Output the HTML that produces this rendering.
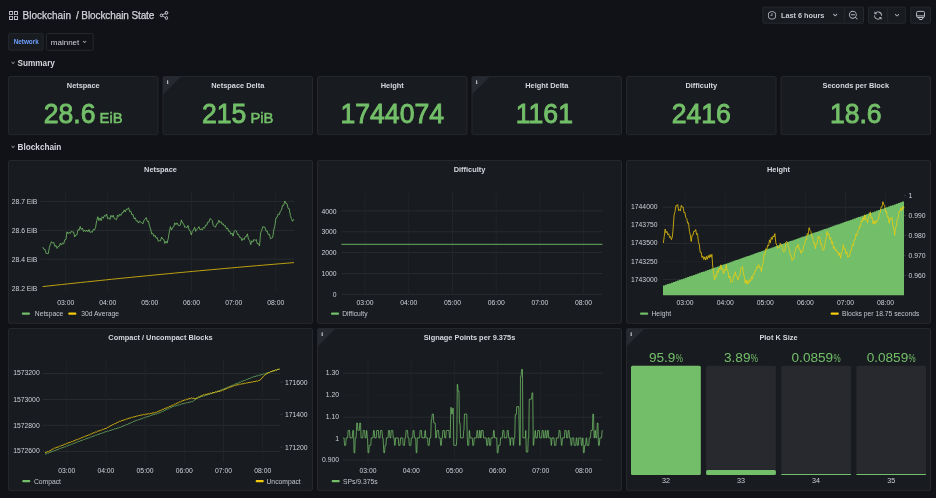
<!DOCTYPE html>
<html><head><meta charset="utf-8"><title>Blockchain State</title>
<style>html,body{margin:0;padding:0;background:#111217;width:936px;height:498px;overflow:hidden}svg{display:block;will-change:transform}</style>
</head><body>
<svg width="936" height="498" viewBox="0 0 936 498" font-family="'Liberation Sans', Arial, sans-serif">
<rect x="0.00" y="0.00" width="936.00" height="498.00" rx="0" fill="#111217" />
<path transform="translate(8.1,10.1) scale(0.45)" fill="#c9cad2" d="M10,13H3a1,1,0,0,0-1,1v7a1,1,0,0,0,1,1h7a1,1,0,0,0,1-1V14A1,1,0,0,0,10,13ZM9,20H4V15H9ZM21,2H14a1,1,0,0,0-1,1v7a1,1,0,0,0,1,1h7a1,1,0,0,0,1-1V3A1,1,0,0,0,21,2ZM20,9H15V4h5Zm1,4H14a1,1,0,0,0-1,1v7a1,1,0,0,0,1,1h7a1,1,0,0,0,1-1V14A1,1,0,0,0,21,13Zm-1,7H15V15h5ZM10,2H3A1,1,0,0,0,2,3v7a1,1,0,0,0,1,1h7a1,1,0,0,0,1-1V3A1,1,0,0,0,10,2ZM9,9H4V4H9Z"/>
<text x="22.60" y="19.30" font-size="10" fill="#d2d3da" font-weight="normal" text-anchor="start" stroke="#d2d3da" stroke-width="0.25">Blockchain</text>
<text x="76.00" y="19.30" font-size="10" fill="#d2d3da" font-weight="normal" text-anchor="start" letter-spacing="-0.1" stroke="#d2d3da" stroke-width="0.25">/ Blockchain State</text>
<path transform="translate(158.85,10.3) scale(0.425)" fill="#c9cad2" d="M18,14a4,4,0,0,0-3.08,1.48l-5.1-2.35a3.640,3.640,0,0,0,0-2.26l5.1-2.35A4,4,0,1,0,14,6a4.170,4.170,0,0,0,.07.71L8.79,9.14a4,4,0,1,0,0,5.72l5.280,2.430A4.170,4.170,0,0,0,14,18a4,4,0,1,0,4-4ZM18,4a2,2,0,1,1-2,2A2,2,0,0,1,18,4ZM6,14a2,2,0,1,1,2-2A2,2,0,0,1,6,14Zm12,6a2,2,0,1,1,2-2A2,2,0,0,1,18,20Z"/>
<rect x="762.90" y="7.10" width="100.60" height="16.20" rx="1" fill="#181b1f" stroke="#25282d" stroke-width="1" />
<line x1="844.30" y1="7.60" x2="844.30" y2="22.80" stroke="#25282d" stroke-width="1" />
<path transform="translate(767.08,10.48) scale(0.41)" fill="#b9bac2" d="M12,2A10,10,0,1,0,22,12,10.011,10.011,0,0,0,12,2Zm0,18a8,8,0,1,1,8-8A8.009,8.009,0,0,1,12,20Zm0-14a1,1,0,0,0-1,1v4H9a1,1,0,0,0,0,2h3a1,1,0,0,0,1-1V7A1,1,0,0,0,12,6Z"/>
<text x="781.00" y="17.90" font-size="7.3" fill="#c9cad2" font-weight="bold" text-anchor="start" >Last 6 hours</text>
<path transform="translate(830.4,10.2) scale(0.4)" fill="#b9bac2" d="M17,9.17a1,1,0,0,0-1.41,0L12,12.71,8.46,9.17a1,1,0,0,0-1.41,0,1,1,0,0,0,0,1.42l4.24,4.24a1,1,0,0,0,1.42,0L17,10.59A1,1,0,0,0,17,9.17Z"/>
<path transform="translate(848.14,10.04) scale(0.43)" fill="#b9bac2" d="M21.71,20.29,18,16.61A9,9,0,1,0,16.61,18l3.68,3.68a1,1,0,0,0,1.42,0A1,1,0,0,0,21.71,20.29ZM11,18a7,7,0,1,1,7-7A7,7,0,0,1,11,18Zm4-8H7a1,1,0,0,0,0,2h8a1,1,0,0,0,0-2Z"/>
<rect x="868.50" y="7.10" width="37.10" height="16.20" rx="1" fill="#181b1f" stroke="#25282d" stroke-width="1" />
<line x1="887.80" y1="7.60" x2="887.80" y2="22.80" stroke="#25282d" stroke-width="1" />
<path transform="translate(873.2,10.8) scale(0.4)" fill="#b9bac2" d="M19.91,15.51H15.38a1,1,0,0,0,0,2h2.4A8,8,0,0,1,4,12a1,1,0,0,0-2,0,10,10,0,0,0,16.88,7.23V21a1,1,0,0,0,2,0V16.5A1,1,0,0,0,19.91,15.51ZM12,2A10,10,0,0,0,5.12,4.77V3a1,1,0,0,0-2,0V7.5a1,1,0,0,0,1,1h4.5a1,1,0,0,0,0-2H6.22A8,8,0,0,1,20,12a1,1,0,0,0,2,0A10,10,0,0,0,12,2Z"/>
<path transform="translate(892.2,10.4) scale(0.4)" fill="#b9bac2" d="M17,9.17a1,1,0,0,0-1.41,0L12,12.71,8.46,9.17a1,1,0,0,0-1.41,0,1,1,0,0,0,0,1.42l4.24,4.24a1,1,0,0,0,1.42,0L17,10.59A1,1,0,0,0,17,9.17Z"/>
<rect x="910.80" y="7.10" width="19.80" height="16.20" rx="1" fill="#181b1f" stroke="#25282d" stroke-width="1" />
<g fill="none" stroke="#b9bac2" stroke-width="1"><rect x="916.6" y="11.4" width="7.9" height="6.1" rx="1.2"/><line x1="916.8" y1="15.9" x2="924.3" y2="15.9"/><path d="M918.4,17.6 L919.6,19.5 L922.1,19.5 L923.3,17.6"/></g>
<rect x="8.60" y="33.60" width="34.40" height="16.60" rx="1" fill="#181b1f" stroke="#25282d" stroke-width="1" />
<text x="13.70" y="44.10" font-size="6.35" fill="#6e9fff" font-weight="bold" text-anchor="start" >Network</text>
<rect x="46.40" y="33.60" width="46.80" height="16.60" rx="1" fill="#111217" stroke="#25282d" stroke-width="1" />
<text x="50.80" y="44.60" font-size="8.0" fill="#d0d1d9" font-weight="normal" text-anchor="start" >mainnet</text>
<path transform="translate(80.6,37.9) scale(0.33)" fill="#c0c1c9" d="M17,9.17a1,1,0,0,0-1.41,0L12,12.71,8.46,9.17a1,1,0,0,0-1.41,0,1,1,0,0,0,0,1.42l4.24,4.24a1,1,0,0,0,1.42,0L17,10.59A1,1,0,0,0,17,9.17Z"/>
<path d="M11.6,62.10 L13.1,63.50 L14.6,62.10" fill="none" stroke="#c9cad2" stroke-width="0.9"/>
<text x="17.60" y="65.70" font-size="8.2" fill="#d6d7de" font-weight="bold" text-anchor="start" >Summary</text>
<path d="M11.6,146.10 L13.1,147.50 L14.6,146.10" fill="none" stroke="#c9cad2" stroke-width="0.9"/>
<text x="17.60" y="149.70" font-size="8.2" fill="#d6d7de" font-weight="bold" text-anchor="start" >Blockchain</text>
<rect x="8.50" y="76.50" width="149.50" height="58.20" rx="1.5" fill="#181b1f" stroke="#25272c" stroke-width="1" />
<text x="83.25" y="88.10" font-size="7.4" fill="#d6d7de" font-weight="bold" text-anchor="middle" >Netspace</text>
<g transform="translate(83.25,122.9) scale(1.03,1.055)"><text x="0" y="0" font-size="25.8" fill="#73bf69" text-anchor="middle" stroke="#73bf69" stroke-width="0.85">28.6<tspan font-size="14.4" stroke-width="0.5"> EiB</tspan></text></g>
<rect x="163.00" y="76.50" width="149.50" height="58.20" rx="1.5" fill="#181b1f" stroke="#25272c" stroke-width="1" />
<path d="M163.00,77.50 Q163.00,76.50 164.00,76.50 L181.10,76.50 L163.00,94.60 Z" fill="#262930"/>
<text x="166.70" y="83.90" font-size="6.6" fill="#d2d3da" font-family="'Liberation Serif', serif" font-weight="bold">i</text>
<text x="237.75" y="88.10" font-size="7.4" fill="#d6d7de" font-weight="bold" text-anchor="middle" >Netspace Delta</text>
<g transform="translate(237.75,122.9) scale(1.03,1.055)"><text x="0" y="0" font-size="25.8" fill="#73bf69" text-anchor="middle" stroke="#73bf69" stroke-width="0.85">215<tspan font-size="14.4" stroke-width="0.5"> PiB</tspan></text></g>
<rect x="317.50" y="76.50" width="149.50" height="58.20" rx="1.5" fill="#181b1f" stroke="#25272c" stroke-width="1" />
<text x="392.25" y="88.10" font-size="7.4" fill="#d6d7de" font-weight="bold" text-anchor="middle" >Height</text>
<g transform="translate(392.25,122.9) scale(1.03,1.055)"><text x="0" y="0" font-size="25.8" fill="#73bf69" text-anchor="middle" stroke="#73bf69" stroke-width="0.85">1744074</text></g>
<rect x="472.00" y="76.50" width="149.50" height="58.20" rx="1.5" fill="#181b1f" stroke="#25272c" stroke-width="1" />
<path d="M472.00,77.50 Q472.00,76.50 473.00,76.50 L490.10,76.50 L472.00,94.60 Z" fill="#262930"/>
<text x="475.70" y="83.90" font-size="6.6" fill="#d2d3da" font-family="'Liberation Serif', serif" font-weight="bold">i</text>
<text x="546.75" y="88.10" font-size="7.4" fill="#d6d7de" font-weight="bold" text-anchor="middle" >Height Delta</text>
<g transform="translate(544.35,122.9) scale(1.03,1.055)"><text x="0" y="0" font-size="25.8" fill="#73bf69" text-anchor="middle" stroke="#73bf69" stroke-width="0.85">1161</text></g>
<rect x="626.50" y="76.50" width="149.50" height="58.20" rx="1.5" fill="#181b1f" stroke="#25272c" stroke-width="1" />
<text x="701.25" y="88.10" font-size="7.4" fill="#d6d7de" font-weight="bold" text-anchor="middle" >Difficulty</text>
<g transform="translate(701.25,122.9) scale(1.03,1.055)"><text x="0" y="0" font-size="25.8" fill="#73bf69" text-anchor="middle" stroke="#73bf69" stroke-width="0.85">2416</text></g>
<rect x="781.00" y="76.50" width="149.50" height="58.20" rx="1.5" fill="#181b1f" stroke="#25272c" stroke-width="1" />
<text x="855.75" y="88.10" font-size="7.4" fill="#d6d7de" font-weight="bold" text-anchor="middle" >Seconds per Block</text>
<g transform="translate(855.75,122.9) scale(1.03,1.055)"><text x="0" y="0" font-size="25.8" fill="#73bf69" text-anchor="middle" stroke="#73bf69" stroke-width="0.85">18.6</text></g>
<rect x="8.50" y="160.50" width="304.00" height="162.80" rx="1.5" fill="#181b1f" stroke="#25272c" stroke-width="1" />
<text x="160.50" y="172.00" font-size="7.4" fill="#d6d7de" font-weight="bold" text-anchor="middle" >Netspace</text>
<line x1="40.50" y1="201.40" x2="294.20" y2="201.40" stroke="#282b30" stroke-width="1" />
<line x1="40.50" y1="230.40" x2="294.20" y2="230.40" stroke="#282b30" stroke-width="1" />
<line x1="40.50" y1="259.20" x2="294.20" y2="259.20" stroke="#282b30" stroke-width="1" />
<line x1="65.70" y1="192.20" x2="65.70" y2="292.00" stroke="#212428" stroke-width="1" />
<line x1="107.70" y1="192.20" x2="107.70" y2="292.00" stroke="#212428" stroke-width="1" />
<line x1="149.70" y1="192.20" x2="149.70" y2="292.00" stroke="#212428" stroke-width="1" />
<line x1="191.50" y1="192.20" x2="191.50" y2="292.00" stroke="#212428" stroke-width="1" />
<line x1="233.70" y1="192.20" x2="233.70" y2="292.00" stroke="#212428" stroke-width="1" />
<line x1="275.70" y1="192.20" x2="275.70" y2="292.00" stroke="#212428" stroke-width="1" />
<text x="37.40" y="204.00" font-size="6.8" fill="#d0d1d9" font-weight="normal" text-anchor="end" >28.7 EiB</text>
<text x="37.40" y="233.00" font-size="6.8" fill="#d0d1d9" font-weight="normal" text-anchor="end" >28.6 EiB</text>
<text x="37.40" y="261.80" font-size="6.8" fill="#d0d1d9" font-weight="normal" text-anchor="end" >28.4 EiB</text>
<text x="37.40" y="290.60" font-size="6.8" fill="#d0d1d9" font-weight="normal" text-anchor="end" >28.2 EiB</text>
<text x="65.70" y="305.00" font-size="6.8" fill="#d0d1d9" font-weight="normal" text-anchor="middle" >03:00</text>
<text x="107.70" y="305.00" font-size="6.8" fill="#d0d1d9" font-weight="normal" text-anchor="middle" >04:00</text>
<text x="149.70" y="305.00" font-size="6.8" fill="#d0d1d9" font-weight="normal" text-anchor="middle" >05:00</text>
<text x="191.50" y="305.00" font-size="6.8" fill="#d0d1d9" font-weight="normal" text-anchor="middle" >06:00</text>
<text x="233.70" y="305.00" font-size="6.8" fill="#d0d1d9" font-weight="normal" text-anchor="middle" >07:00</text>
<text x="275.70" y="305.00" font-size="6.8" fill="#d0d1d9" font-weight="normal" text-anchor="middle" >08:00</text>
<polyline points="42.80,247.10 43.90,249.35 45.00,249.43 46.10,253.38 47.20,253.55 48.30,253.56 49.40,247.30 50.50,244.01 51.60,241.67 52.70,243.17 53.80,242.50 54.90,246.50 56.00,245.42 57.10,248.48 58.20,246.45 59.30,246.32 60.40,243.07 61.50,245.07 62.60,242.86 63.70,243.90 64.80,239.75 65.90,239.47 67.00,231.83 68.10,233.75 69.20,232.22 70.30,233.47 71.40,231.12 72.50,231.86 73.60,231.95 74.70,236.85 75.80,235.04 76.90,234.91 78.00,229.58 79.10,230.24 80.20,226.46 81.30,229.41 82.40,228.03 83.50,231.57 84.60,230.08 85.70,231.65 86.80,230.01 87.90,231.71 89.00,229.52 90.10,232.49 91.20,231.56 92.30,232.41 93.40,229.26 94.50,230.01 95.60,227.24 96.70,220.64 97.80,216.72 98.90,220.55 100.00,217.98 101.10,220.65 102.20,216.76 103.30,218.35 104.40,215.44 105.50,216.27 106.60,214.02 107.70,218.86 108.80,217.70 109.90,219.47 111.00,215.33 112.10,217.21 113.20,215.20 114.30,218.65 115.40,219.03 116.50,219.79 117.60,214.97 118.70,216.55 119.80,214.08 120.90,215.45 122.00,212.67 123.10,212.70 124.20,209.95 125.30,211.98 126.40,209.00 127.50,209.37 128.60,207.78 129.70,211.62 130.80,211.14 131.90,214.82 133.00,214.41 134.10,218.76 135.20,217.72 136.30,221.15 137.40,220.65 138.50,223.08 139.60,220.91 140.70,222.37 141.80,222.79 142.90,223.85 144.00,220.17 145.10,219.29 146.20,217.52 147.30,221.45 148.40,221.14 149.50,225.94 150.60,228.94 151.70,234.06 152.80,233.27 153.90,236.45 155.00,235.12 156.10,238.17 157.20,237.49 158.30,241.48 159.40,240.52 160.50,240.79 161.60,237.07 162.70,238.96 163.80,239.38 164.90,243.51 166.00,241.17 167.10,243.15 168.20,238.72 169.30,232.06 170.40,226.62 171.50,230.07 172.60,227.45 173.70,226.91 174.80,222.81 175.90,224.65 177.00,222.82 178.10,225.14 179.20,225.68 180.30,225.24 181.40,219.92 182.50,223.11 183.60,223.67 184.70,227.35 185.80,226.74 186.90,227.81 188.00,225.41 189.10,230.02 190.20,230.77 191.30,235.00 192.40,231.16 193.50,230.06 194.60,227.24 195.70,231.34 196.80,229.35 197.90,228.45 199.00,226.67 200.10,229.85 201.20,228.98 202.30,229.93 203.40,227.41 204.50,228.26 205.60,225.13 206.70,225.35 207.80,221.94 208.90,222.18 210.00,218.59 211.10,219.33 212.20,220.46 213.30,225.77 214.40,226.46 215.50,227.29 216.60,223.89 217.70,223.72 218.80,220.09 219.90,222.70 221.00,221.54 222.10,224.26 223.20,223.77 224.30,226.12 225.40,225.68 226.50,229.10 227.60,227.94 228.70,231.38 229.80,231.16 230.90,234.30 232.00,232.98 233.10,236.13 234.20,231.14 235.30,230.50 236.40,230.91 237.50,234.70 238.60,234.40 239.70,237.48 240.80,237.31 241.90,240.61 243.00,238.34 244.10,239.69 245.20,236.70 246.30,236.75 247.40,233.84 248.50,239.40 249.60,240.11 250.70,244.68 251.80,240.76 252.90,242.07 254.00,239.30 255.10,240.64 256.20,239.50 257.30,243.84 258.40,243.56 259.50,245.96 260.60,232.97 261.70,230.36 262.80,226.68 263.90,227.04 265.00,227.30 266.10,231.19 267.20,231.02 268.30,234.73 269.40,234.19 270.50,238.82 271.60,238.05 272.70,237.59 273.80,229.90 274.90,225.54 276.00,217.82 277.10,217.29 278.20,213.99 279.30,214.56 280.40,210.96 281.50,210.25 282.60,205.34 283.70,205.37 284.80,200.97 285.90,203.46 287.00,203.65 288.10,208.39 289.20,208.61 290.30,215.25 291.40,218.54 292.50,221.29 293.60,219.49 294.00,219.00" fill="none" stroke="#73bf69" stroke-width="0.8" stroke-linejoin="round" />
<polyline points="42.60,286.60 48.89,285.91 55.17,285.23 61.45,284.55 67.74,283.88 74.03,283.21 80.31,282.54 86.59,281.88 92.88,281.22 99.17,280.57 105.45,279.93 111.74,279.28 118.02,278.64 124.31,278.01 130.59,277.38 136.88,276.76 143.16,276.14 149.44,275.52 155.73,274.91 162.01,274.30 168.30,273.70 174.59,273.10 180.87,272.51 187.15,271.92 193.44,271.34 199.72,270.76 206.01,270.18 212.30,269.61 218.58,269.04 224.86,268.48 231.15,267.93 237.44,267.37 243.72,266.82 250.00,266.28 256.29,265.74 262.57,265.21 268.86,264.68 275.15,264.15 281.43,263.63 287.72,263.11 294.00,262.60" fill="none" stroke="#f2cc0c" stroke-width="0.75" stroke-linejoin="round" />
<rect x="21.80" y="312.45" width="8.20" height="2.30" rx="1.1" fill="#73bf69" />
<text x="34.80" y="316.10" font-size="6.75" fill="#c4c5cd" font-weight="normal" text-anchor="start" >Netspace</text>
<rect x="68.20" y="312.45" width="8.20" height="2.30" rx="1.1" fill="#f2cc0c" />
<text x="81.20" y="316.10" font-size="6.75" fill="#c4c5cd" font-weight="normal" text-anchor="start" >30d Average</text>
<rect x="317.50" y="160.50" width="304.00" height="162.80" rx="1.5" fill="#181b1f" stroke="#25272c" stroke-width="1" />
<text x="469.50" y="172.00" font-size="7.4" fill="#d6d7de" font-weight="bold" text-anchor="middle" >Difficulty</text>
<line x1="341.40" y1="210.90" x2="602.40" y2="210.90" stroke="#282b30" stroke-width="1" />
<line x1="341.40" y1="231.75" x2="602.40" y2="231.75" stroke="#282b30" stroke-width="1" />
<line x1="341.40" y1="252.60" x2="602.40" y2="252.60" stroke="#282b30" stroke-width="1" />
<line x1="341.40" y1="273.45" x2="602.40" y2="273.45" stroke="#282b30" stroke-width="1" />
<line x1="341.40" y1="294.30" x2="602.40" y2="294.30" stroke="#282b30" stroke-width="1" />
<line x1="365.10" y1="192.70" x2="365.10" y2="295.00" stroke="#212428" stroke-width="1" />
<line x1="408.80" y1="192.70" x2="408.80" y2="295.00" stroke="#212428" stroke-width="1" />
<line x1="452.50" y1="192.70" x2="452.50" y2="295.00" stroke="#212428" stroke-width="1" />
<line x1="496.20" y1="192.70" x2="496.20" y2="295.00" stroke="#212428" stroke-width="1" />
<line x1="539.90" y1="192.70" x2="539.90" y2="295.00" stroke="#212428" stroke-width="1" />
<line x1="583.60" y1="192.70" x2="583.60" y2="295.00" stroke="#212428" stroke-width="1" />
<text x="336.50" y="213.50" font-size="6.8" fill="#d0d1d9" font-weight="normal" text-anchor="end" >4000</text>
<text x="336.50" y="234.35" font-size="6.8" fill="#d0d1d9" font-weight="normal" text-anchor="end" >3000</text>
<text x="336.50" y="255.20" font-size="6.8" fill="#d0d1d9" font-weight="normal" text-anchor="end" >2000</text>
<text x="336.50" y="276.05" font-size="6.8" fill="#d0d1d9" font-weight="normal" text-anchor="end" >1000</text>
<text x="336.50" y="296.90" font-size="6.8" fill="#d0d1d9" font-weight="normal" text-anchor="end" >0</text>
<text x="365.10" y="305.00" font-size="6.8" fill="#d0d1d9" font-weight="normal" text-anchor="middle" >03:00</text>
<text x="408.80" y="305.00" font-size="6.8" fill="#d0d1d9" font-weight="normal" text-anchor="middle" >04:00</text>
<text x="452.50" y="305.00" font-size="6.8" fill="#d0d1d9" font-weight="normal" text-anchor="middle" >05:00</text>
<text x="496.20" y="305.00" font-size="6.8" fill="#d0d1d9" font-weight="normal" text-anchor="middle" >06:00</text>
<text x="539.90" y="305.00" font-size="6.8" fill="#d0d1d9" font-weight="normal" text-anchor="middle" >07:00</text>
<text x="583.60" y="305.00" font-size="6.8" fill="#d0d1d9" font-weight="normal" text-anchor="middle" >08:00</text>
<line x1="341.40" y1="244.30" x2="602.40" y2="244.30" stroke="#73bf69" stroke-width="0.9" />
<rect x="330.90" y="312.45" width="8.20" height="2.30" rx="1.1" fill="#73bf69" />
<text x="342.20" y="316.10" font-size="6.75" fill="#c4c5cd" font-weight="normal" text-anchor="start" >Difficulty</text>
<rect x="626.50" y="160.50" width="304.00" height="162.80" rx="1.5" fill="#181b1f" stroke="#25272c" stroke-width="1" />
<text x="778.50" y="172.00" font-size="7.4" fill="#d6d7de" font-weight="bold" text-anchor="middle" >Height</text>
<line x1="663.00" y1="207.20" x2="904.00" y2="207.20" stroke="#282b30" stroke-width="1" />
<line x1="663.00" y1="225.30" x2="904.00" y2="225.30" stroke="#282b30" stroke-width="1" />
<line x1="663.00" y1="243.40" x2="904.00" y2="243.40" stroke="#282b30" stroke-width="1" />
<line x1="663.00" y1="279.60" x2="904.00" y2="279.60" stroke="#282b30" stroke-width="1" />
<line x1="663.00" y1="261.50" x2="904.00" y2="261.50" stroke="#1e2125" stroke-width="1" />
<line x1="685.10" y1="192.50" x2="685.10" y2="295.00" stroke="#212428" stroke-width="1" />
<line x1="725.20" y1="192.50" x2="725.20" y2="295.00" stroke="#212428" stroke-width="1" />
<line x1="765.30" y1="192.50" x2="765.30" y2="295.00" stroke="#212428" stroke-width="1" />
<line x1="805.40" y1="192.50" x2="805.40" y2="295.00" stroke="#212428" stroke-width="1" />
<line x1="845.50" y1="192.50" x2="845.50" y2="295.00" stroke="#212428" stroke-width="1" />
<line x1="885.60" y1="192.50" x2="885.60" y2="295.00" stroke="#212428" stroke-width="1" />
<text x="657.50" y="209.20" font-size="6.8" fill="#d0d1d9" font-weight="normal" text-anchor="end" >1744000</text>
<text x="657.50" y="227.30" font-size="6.8" fill="#d0d1d9" font-weight="normal" text-anchor="end" >1743750</text>
<text x="657.50" y="245.40" font-size="6.8" fill="#d0d1d9" font-weight="normal" text-anchor="end" >1743500</text>
<text x="657.50" y="263.50" font-size="6.8" fill="#d0d1d9" font-weight="normal" text-anchor="end" >1743250</text>
<text x="657.50" y="281.60" font-size="6.8" fill="#d0d1d9" font-weight="normal" text-anchor="end" >1743000</text>
<text x="908.50" y="197.90" font-size="6.8" fill="#d0d1d9" font-weight="normal" text-anchor="start" >1</text>
<line x1="904.00" y1="195.40" x2="906.20" y2="195.40" stroke="#3a3d43" stroke-width="0.8" />
<text x="908.50" y="218.00" font-size="6.8" fill="#d0d1d9" font-weight="normal" text-anchor="start" >0.990</text>
<line x1="904.00" y1="215.50" x2="906.20" y2="215.50" stroke="#3a3d43" stroke-width="0.8" />
<text x="908.50" y="237.90" font-size="6.8" fill="#d0d1d9" font-weight="normal" text-anchor="start" >0.980</text>
<line x1="904.00" y1="235.40" x2="906.20" y2="235.40" stroke="#3a3d43" stroke-width="0.8" />
<text x="908.50" y="257.90" font-size="6.8" fill="#d0d1d9" font-weight="normal" text-anchor="start" >0.970</text>
<line x1="904.00" y1="255.40" x2="906.20" y2="255.40" stroke="#3a3d43" stroke-width="0.8" />
<text x="908.50" y="278.00" font-size="6.8" fill="#d0d1d9" font-weight="normal" text-anchor="start" >0.960</text>
<line x1="904.00" y1="275.50" x2="906.20" y2="275.50" stroke="#3a3d43" stroke-width="0.8" />
<text x="685.10" y="305.00" font-size="6.8" fill="#d0d1d9" font-weight="normal" text-anchor="middle" >03:00</text>
<text x="725.20" y="305.00" font-size="6.8" fill="#d0d1d9" font-weight="normal" text-anchor="middle" >04:00</text>
<text x="765.30" y="305.00" font-size="6.8" fill="#d0d1d9" font-weight="normal" text-anchor="middle" >05:00</text>
<text x="805.40" y="305.00" font-size="6.8" fill="#d0d1d9" font-weight="normal" text-anchor="middle" >06:00</text>
<text x="845.50" y="305.00" font-size="6.8" fill="#d0d1d9" font-weight="normal" text-anchor="middle" >07:00</text>
<text x="885.60" y="305.00" font-size="6.8" fill="#d0d1d9" font-weight="normal" text-anchor="middle" >08:00</text>
<path d="M663,295.2 L663.00,285.50 L665.01,285.50 L665.01,284.79 L667.02,284.79 L667.02,284.09 L669.02,284.09 L669.02,283.38 L671.03,283.38 L671.03,282.68 L673.04,282.68 L673.04,281.97 L675.05,281.97 L675.05,281.27 L677.06,281.27 L677.06,280.56 L679.07,280.56 L679.07,279.86 L681.08,279.86 L681.08,279.15 L683.08,279.15 L683.08,278.45 L685.09,278.45 L685.09,277.74 L687.10,277.74 L687.10,277.04 L689.11,277.04 L689.11,276.33 L691.12,276.33 L691.12,275.63 L693.12,275.63 L693.12,274.92 L695.13,274.92 L695.13,274.22 L697.14,274.22 L697.14,273.51 L699.15,273.51 L699.15,272.81 L701.16,272.81 L701.16,272.10 L703.17,272.10 L703.17,271.40 L705.17,271.40 L705.17,270.69 L707.18,270.69 L707.18,269.99 L709.19,269.99 L709.19,269.28 L711.20,269.28 L711.20,268.58 L713.21,268.58 L713.21,267.87 L715.22,267.87 L715.22,267.17 L717.23,267.17 L717.23,266.46 L719.23,266.46 L719.23,265.76 L721.24,265.76 L721.24,265.05 L723.25,265.05 L723.25,264.35 L725.26,264.35 L725.26,263.64 L727.27,263.64 L727.27,262.94 L729.27,262.94 L729.27,262.23 L731.28,262.23 L731.28,261.53 L733.29,261.53 L733.29,260.82 L735.30,260.82 L735.30,260.12 L737.31,260.12 L737.31,259.41 L739.32,259.41 L739.32,258.71 L741.33,258.71 L741.33,258.00 L743.33,258.00 L743.33,257.30 L745.34,257.30 L745.34,256.59 L747.35,256.59 L747.35,255.89 L749.36,255.89 L749.36,255.18 L751.37,255.18 L751.37,254.48 L753.38,254.48 L753.38,253.77 L755.38,253.77 L755.38,253.07 L757.39,253.07 L757.39,252.36 L759.40,252.36 L759.40,251.66 L761.41,251.66 L761.41,250.95 L763.42,250.95 L763.42,250.25 L765.42,250.25 L765.42,249.54 L767.43,249.54 L767.43,248.84 L769.44,248.84 L769.44,248.13 L771.45,248.13 L771.45,247.43 L773.46,247.43 L773.46,246.72 L775.47,246.72 L775.47,246.02 L777.48,246.02 L777.48,245.31 L779.48,245.31 L779.48,244.61 L781.49,244.61 L781.49,243.90 L783.50,243.90 L783.50,243.20 L785.51,243.20 L785.51,242.49 L787.52,242.49 L787.52,241.79 L789.52,241.79 L789.52,241.08 L791.53,241.08 L791.53,240.38 L793.54,240.38 L793.54,239.67 L795.55,239.67 L795.55,238.97 L797.56,238.97 L797.56,238.26 L799.57,238.26 L799.57,237.56 L801.58,237.56 L801.58,236.85 L803.58,236.85 L803.58,236.15 L805.59,236.15 L805.59,235.44 L807.60,235.44 L807.60,234.74 L809.61,234.74 L809.61,234.03 L811.62,234.03 L811.62,233.33 L813.62,233.33 L813.62,232.62 L815.63,232.62 L815.63,231.92 L817.64,231.92 L817.64,231.21 L819.65,231.21 L819.65,230.51 L821.66,230.51 L821.66,229.80 L823.67,229.80 L823.67,229.10 L825.67,229.10 L825.67,228.39 L827.68,228.39 L827.68,227.69 L829.69,227.69 L829.69,226.98 L831.70,226.98 L831.70,226.28 L833.71,226.28 L833.71,225.57 L835.72,225.57 L835.72,224.87 L837.73,224.87 L837.73,224.16 L839.73,224.16 L839.73,223.46 L841.74,223.46 L841.74,222.75 L843.75,222.75 L843.75,222.05 L845.76,222.05 L845.76,221.34 L847.77,221.34 L847.77,220.64 L849.77,220.64 L849.77,219.93 L851.78,219.93 L851.78,219.23 L853.79,219.23 L853.79,218.52 L855.80,218.52 L855.80,217.82 L857.81,217.82 L857.81,217.11 L859.82,217.11 L859.82,216.41 L861.83,216.41 L861.83,215.70 L863.83,215.70 L863.83,215.00 L865.84,215.00 L865.84,214.29 L867.85,214.29 L867.85,213.59 L869.86,213.59 L869.86,212.88 L871.87,212.88 L871.87,212.18 L873.88,212.18 L873.88,211.47 L875.88,211.47 L875.88,210.77 L877.89,210.77 L877.89,210.06 L879.90,210.06 L879.90,209.36 L881.91,209.36 L881.91,208.65 L883.92,208.65 L883.92,207.95 L885.92,207.95 L885.92,207.24 L887.93,207.24 L887.93,206.54 L889.94,206.54 L889.94,205.83 L891.95,205.83 L891.95,205.13 L893.96,205.13 L893.96,204.42 L895.97,204.42 L895.97,203.72 L897.98,203.72 L897.98,203.01 L899.98,203.01 L899.98,202.31 L901.99,202.31 L901.99,201.60 L904.00,201.60 L904,295.2 Z" fill="#73bf69"/>
<polyline points="663.30,243.00 664.20,236.79 665.10,229.10 666.00,232.83 666.90,231.35 667.80,234.84 668.70,233.73 669.60,237.52 670.50,236.49 671.40,239.65 672.30,237.06 673.20,227.96 674.10,215.03 675.00,211.67 675.90,205.58 676.80,205.79 677.70,204.56 678.60,210.75 679.50,209.60 680.40,210.87 681.30,205.35 682.20,207.00 683.10,206.97 684.00,212.81 684.90,212.58 685.80,217.53 686.70,218.46 687.60,223.25 688.50,222.79 689.40,231.28 690.30,234.97 691.20,241.47 692.10,235.31 693.00,235.02 693.90,231.16 694.80,231.45 695.70,229.53 696.60,234.59 697.50,233.67 698.40,241.73 699.30,244.79 700.20,252.19 701.10,251.99 702.00,257.54 702.90,256.15 703.80,259.58 704.70,256.89 705.60,260.04 706.50,256.30 707.40,259.36 708.30,255.45 709.20,257.97 710.10,254.52 711.00,257.21 711.90,254.39 712.80,267.18 713.70,274.70 714.60,280.06 715.50,275.21 716.40,276.57 717.30,270.71 718.20,272.71 719.10,267.89 720.00,269.37 720.90,264.76 721.80,269.85 722.70,268.63 723.60,273.93 724.50,269.47 725.40,270.39 726.30,264.44 727.20,270.63 728.10,271.66 729.00,278.00 729.90,276.08 730.80,282.48 731.70,281.42 732.60,281.71 733.50,275.93 734.40,275.73 735.30,271.92 736.20,276.35 737.10,276.55 738.00,280.25 738.90,276.79 739.80,275.39 740.70,269.18 741.60,267.36 742.50,266.53 743.40,273.97 744.30,276.26 745.20,283.31 746.10,279.92 747.00,284.34 747.90,280.55 748.80,283.40 749.70,279.71 750.60,281.13 751.50,276.55 752.40,279.23 753.30,274.27 754.20,274.37 755.10,270.53 756.00,270.84 756.90,266.47 757.80,267.75 758.70,264.65 759.60,267.94 760.50,267.36 761.40,271.49 762.30,265.17 763.20,263.11 764.10,253.90 765.00,254.52 765.90,248.62 766.80,249.82 767.70,245.14 768.60,245.93 769.50,239.82 770.40,242.66 771.30,237.39 772.20,239.49 773.10,235.77 774.00,237.06 774.90,233.59 775.80,242.81 776.70,244.96 777.60,248.16 778.50,247.55 779.40,247.47 780.30,243.19 781.20,244.76 782.10,246.20 783.00,251.06 783.90,252.00 784.80,251.12 785.70,242.42 786.60,241.37 787.50,242.31 788.40,247.89 789.30,249.09 790.20,254.92 791.10,255.18 792.00,260.56 792.90,258.64 793.80,259.01 794.70,252.02 795.60,250.24 796.50,246.58 797.40,247.31 798.30,244.42 799.20,249.95 800.10,249.36 801.00,253.43 801.90,250.96 802.80,251.36 803.70,245.53 804.60,244.66 805.50,239.61 806.40,239.61 807.30,233.53 808.20,234.71 809.10,227.65 810.00,230.36 810.90,231.46 811.80,237.18 812.70,237.21 813.60,243.44 814.50,242.70 815.40,248.62 816.30,243.37 817.20,243.43 818.10,236.18 819.00,238.21 819.90,237.33 820.80,244.50 821.70,243.78 822.60,249.89 823.50,250.48 824.40,248.20 825.30,241.13 826.20,237.54 827.10,231.33 828.00,235.11 828.90,233.74 829.80,239.31 830.70,237.49 831.60,243.49 832.50,241.40 833.40,248.30 834.30,246.65 835.20,250.15 836.10,249.24 837.00,252.48 837.90,251.66 838.80,255.59 839.70,252.97 840.60,258.37 841.50,251.97 842.40,251.11 843.30,244.62 844.20,249.21 845.10,248.41 846.00,254.10 846.90,251.78 847.80,257.42 848.70,255.84 849.60,256.39 850.50,250.52 851.40,250.77 852.30,244.63 853.20,245.93 854.10,239.80 855.00,240.09 855.90,234.18 856.80,235.88 857.70,230.79 858.60,230.39 859.50,226.32 860.40,227.15 861.30,220.76 862.20,221.93 863.10,217.49 864.00,220.29 864.90,214.78 865.80,219.55 866.70,219.43 867.60,223.00 868.50,216.89 869.40,215.35 870.30,211.84 871.20,218.07 872.10,217.29 873.00,223.83 873.90,220.66 874.80,224.32 875.70,220.82 876.60,222.50 877.50,219.79 878.40,219.64 879.30,213.56 880.20,212.94 881.10,207.11 882.00,206.98 882.90,201.66 883.80,204.72 884.70,205.52 885.60,212.07 886.50,211.29 887.40,217.56 888.30,216.77 889.20,223.19 890.10,218.44 891.00,219.25 891.90,217.33 892.80,225.00 893.70,228.17 894.60,235.40 895.50,227.87 896.40,225.96 897.30,218.69 898.20,218.26 899.10,211.21 900.00,211.42 900.90,208.09 901.80,210.60 902.70,206.48 903.60,208.41 904.00,207.00" fill="none" stroke="#f2cc0c" stroke-width="0.75" stroke-linejoin="round" />
<rect x="640.00" y="312.45" width="8.20" height="2.30" rx="1.1" fill="#73bf69" />
<text x="651.50" y="316.10" font-size="6.75" fill="#c4c5cd" font-weight="normal" text-anchor="start" >Height</text>
<rect x="830.60" y="312.45" width="8.20" height="2.30" rx="1.1" fill="#f2cc0c" />
<text x="842.00" y="316.10" font-size="6.75" fill="#c4c5cd" font-weight="normal" text-anchor="start" >Blocks per 18.75 seconds</text>
<rect x="8.50" y="328.50" width="304.00" height="162.20" rx="1.5" fill="#181b1f" stroke="#25272c" stroke-width="1" />
<text x="160.50" y="340.00" font-size="7.4" fill="#d6d7de" font-weight="bold" text-anchor="middle" >Compact / Uncompact Blocks</text>
<line x1="42.60" y1="373.50" x2="280.20" y2="373.50" stroke="#282b30" stroke-width="1" />
<line x1="42.60" y1="399.50" x2="280.20" y2="399.50" stroke="#282b30" stroke-width="1" />
<line x1="42.60" y1="425.30" x2="280.20" y2="425.30" stroke="#282b30" stroke-width="1" />
<line x1="42.60" y1="451.40" x2="280.20" y2="451.40" stroke="#282b30" stroke-width="1" />
<line x1="66.70" y1="360.00" x2="66.70" y2="462.50" stroke="#212428" stroke-width="1" />
<line x1="105.90" y1="360.00" x2="105.90" y2="462.50" stroke="#212428" stroke-width="1" />
<line x1="145.10" y1="360.00" x2="145.10" y2="462.50" stroke="#212428" stroke-width="1" />
<line x1="184.30" y1="360.00" x2="184.30" y2="462.50" stroke="#212428" stroke-width="1" />
<line x1="223.50" y1="360.00" x2="223.50" y2="462.50" stroke="#212428" stroke-width="1" />
<line x1="262.70" y1="360.00" x2="262.70" y2="462.50" stroke="#212428" stroke-width="1" />
<text x="39.70" y="375.40" font-size="6.8" fill="#d0d1d9" font-weight="normal" text-anchor="end" >1573200</text>
<text x="39.70" y="401.50" font-size="6.8" fill="#d0d1d9" font-weight="normal" text-anchor="end" >1573000</text>
<text x="39.70" y="427.60" font-size="6.8" fill="#d0d1d9" font-weight="normal" text-anchor="end" >1572800</text>
<text x="39.70" y="453.40" font-size="6.8" fill="#d0d1d9" font-weight="normal" text-anchor="end" >1572600</text>
<text x="284.90" y="384.50" font-size="6.8" fill="#d0d1d9" font-weight="normal" text-anchor="start" >171600</text>
<line x1="280.20" y1="382.00" x2="282.40" y2="382.00" stroke="#3a3d43" stroke-width="0.8" />
<text x="284.90" y="417.10" font-size="6.8" fill="#d0d1d9" font-weight="normal" text-anchor="start" >171400</text>
<line x1="280.20" y1="414.60" x2="282.40" y2="414.60" stroke="#3a3d43" stroke-width="0.8" />
<text x="284.90" y="449.70" font-size="6.8" fill="#d0d1d9" font-weight="normal" text-anchor="start" >171200</text>
<line x1="280.20" y1="447.20" x2="282.40" y2="447.20" stroke="#3a3d43" stroke-width="0.8" />
<text x="66.70" y="473.00" font-size="6.8" fill="#d0d1d9" font-weight="normal" text-anchor="middle" >03:00</text>
<text x="105.90" y="473.00" font-size="6.8" fill="#d0d1d9" font-weight="normal" text-anchor="middle" >04:00</text>
<text x="145.10" y="473.00" font-size="6.8" fill="#d0d1d9" font-weight="normal" text-anchor="middle" >05:00</text>
<text x="184.30" y="473.00" font-size="6.8" fill="#d0d1d9" font-weight="normal" text-anchor="middle" >06:00</text>
<text x="223.50" y="473.00" font-size="6.8" fill="#d0d1d9" font-weight="normal" text-anchor="middle" >07:00</text>
<text x="262.70" y="473.00" font-size="6.8" fill="#d0d1d9" font-weight="normal" text-anchor="middle" >08:00</text>
<polyline points="45.00,454.20 46.20,453.94 47.40,453.10 48.60,453.15 49.80,452.24 51.00,452.18 52.20,451.32 53.40,451.22 54.60,450.45 55.80,450.42 57.00,449.49 58.20,449.40 59.40,448.68 60.60,448.49 61.80,447.67 63.00,447.71 64.20,446.92 65.40,446.86 66.60,445.82 67.80,445.88 69.00,444.98 70.20,444.87 71.40,444.20 72.60,444.04 73.80,443.29 75.00,443.06 76.20,442.34 77.40,442.12 78.60,441.39 79.80,441.32 81.00,440.43 82.20,440.45 83.40,439.58 84.60,439.56 85.80,438.69 87.00,438.67 88.20,437.89 89.40,437.89 90.60,436.86 91.80,436.99 93.00,436.06 94.20,436.02 95.40,435.30 96.60,435.16 97.80,434.47 99.00,434.40 100.20,433.54 101.40,433.56 102.60,432.69 103.80,432.72 105.00,431.73 106.20,431.72 107.40,431.13 108.60,431.18 109.80,430.34 111.00,430.45 112.20,429.61 113.40,429.52 114.60,428.83 115.80,428.94 117.00,428.17 118.20,428.05 119.40,427.42 120.60,427.46 121.80,426.41 123.00,426.26 124.20,425.49 125.40,425.23 126.60,424.50 127.80,424.34 129.00,423.44 130.20,423.26 131.40,422.36 132.60,422.16 133.80,421.27 135.00,421.12 136.20,420.35 137.40,420.27 138.60,419.56 139.80,419.45 141.00,418.75 142.20,418.77 143.40,417.80 144.60,417.79 145.80,416.96 147.00,416.98 148.20,416.28 149.40,416.33 150.60,415.45 151.80,415.39 153.00,414.59 154.20,414.63 155.40,413.96 156.60,413.96 157.80,413.16 159.00,413.08 160.20,412.40 161.40,412.06 162.60,411.18 163.80,410.97 165.00,410.05 166.20,409.88 167.40,408.97 168.60,408.88 169.80,407.84 171.00,407.68 172.20,406.64 173.40,406.50 174.60,405.92 175.80,406.00 177.00,405.13 178.20,405.20 179.40,404.60 180.60,404.65 181.80,403.79 183.00,403.88 184.20,403.13 185.40,403.39 186.60,402.64 187.80,402.78 189.00,402.24 190.20,402.19 191.40,401.55 192.60,401.73 193.80,400.60 195.00,399.98 196.20,398.57 197.40,398.15 198.60,397.41 199.80,397.31 201.00,396.57 202.20,396.54 203.40,395.92 204.60,395.89 205.80,395.04 207.00,395.16 208.20,394.41 209.40,394.47 210.60,393.65 211.80,393.45 213.00,392.77 214.20,392.67 215.40,391.95 216.60,391.75 217.80,391.02 219.00,390.97 220.20,390.21 221.40,390.06 222.60,389.18 223.80,389.25 225.00,388.23 226.20,388.19 227.40,387.25 228.60,387.08 229.80,386.36 231.00,386.05 232.20,385.18 233.40,385.20 234.60,384.17 235.80,384.05 237.00,383.23 238.20,383.15 239.40,382.22 240.60,382.14 241.80,381.21 243.00,381.14 244.20,380.35 245.40,380.32 246.60,379.32 247.80,379.37 249.00,378.41 250.20,378.43 251.40,377.41 252.60,377.38 253.80,376.56 255.00,376.73 256.20,375.85 257.40,375.97 258.60,375.20 259.80,375.39 261.00,374.58 262.20,374.68 263.40,373.95 264.60,374.00 265.80,373.24 267.00,373.17 268.20,372.43 269.40,372.54 270.60,371.56 271.80,371.66 273.00,370.84 274.20,370.85 275.40,370.04 276.60,370.11 277.80,369.33 279.00,369.37 279.60,369.10" fill="none" stroke="#73bf69" stroke-width="0.7" stroke-linejoin="round" />
<polyline points="45.00,452.60 46.20,452.42 47.40,451.43 48.60,451.61 49.80,450.71 51.00,450.32 52.20,449.26 53.40,448.96 54.60,447.84 55.80,448.06 57.00,447.02 58.20,447.15 59.40,446.14 60.60,446.17 61.80,445.33 63.00,445.27 64.20,444.26 65.40,444.29 66.60,443.33 67.80,443.35 69.00,442.42 70.20,442.48 71.40,441.57 72.60,441.70 73.80,440.75 75.00,440.56 76.20,439.58 77.40,439.76 78.60,438.89 79.80,438.97 81.00,437.70 82.20,437.75 83.40,436.86 84.60,436.76 85.80,435.90 87.00,435.91 88.20,434.96 89.40,434.94 90.60,434.01 91.80,433.83 93.00,432.84 94.20,432.94 95.40,432.00 96.60,432.04 97.80,431.03 99.00,431.08 100.20,430.30 101.40,430.34 102.60,429.20 103.80,429.57 105.00,428.45 106.20,428.55 107.40,427.45 108.60,427.31 109.80,426.01 111.00,425.79 112.20,424.77 113.40,424.54 114.60,423.51 115.80,423.58 117.00,422.43 118.20,422.28 119.40,421.26 120.60,421.34 121.80,420.44 123.00,420.49 124.20,419.67 125.40,419.75 126.60,418.79 127.80,418.87 129.00,418.06 130.20,418.12 131.40,417.31 132.60,417.43 133.80,416.78 135.00,416.87 136.20,416.03 137.40,416.14 138.60,415.44 139.80,415.54 141.00,414.91 142.20,415.17 143.40,414.34 144.60,414.79 145.80,413.96 147.00,414.32 148.20,413.58 149.40,413.96 150.60,413.34 151.80,413.62 153.00,412.70 154.20,412.97 155.40,412.34 156.60,412.36 157.80,411.31 159.00,411.21 160.20,410.39 161.40,410.14 162.60,409.21 163.80,409.40 165.00,408.10 166.20,408.25 167.40,407.36 168.60,407.19 169.80,406.14 171.00,406.32 172.20,405.16 173.40,405.14 174.60,404.13 175.80,404.10 177.00,403.00 178.20,402.94 179.40,401.81 180.60,402.01 181.80,400.93 183.00,400.89 184.20,399.94 185.40,400.12 186.60,399.16 187.80,399.43 189.00,398.47 190.20,398.73 191.40,397.85 192.60,398.38 193.80,398.18 195.00,398.88 196.20,398.18 197.40,398.03 198.60,396.89 199.80,396.88 201.00,395.84 202.20,395.65 203.40,394.57 204.60,394.97 205.80,394.12 207.00,394.52 208.20,393.48 209.40,393.93 210.60,393.08 211.80,393.33 213.00,392.40 214.20,392.83 215.40,391.93 216.60,392.16 217.80,391.44 219.00,391.71 220.20,390.83 221.40,390.90 222.60,389.95 223.80,390.14 225.00,388.92 226.20,389.13 227.40,387.88 228.60,388.04 229.80,386.97 231.00,387.09 232.20,386.26 233.40,386.17 234.60,385.28 235.80,385.54 237.00,384.60 238.20,384.95 239.40,384.14 240.60,384.34 241.80,383.68 243.00,384.02 244.20,383.23 245.40,383.42 246.60,382.78 247.80,383.01 249.00,382.27 250.20,382.53 251.40,382.01 252.60,382.15 253.80,381.40 255.00,381.78 256.20,380.87 257.40,381.29 258.60,380.42 259.80,380.42 261.00,378.76 262.20,377.99 263.40,376.30 264.60,375.51 265.80,374.21 267.00,373.83 268.20,372.69 269.40,372.70 270.60,371.61 271.80,371.40 273.00,370.70 274.20,370.79 275.40,370.10 276.60,370.18 277.80,369.22 279.00,369.46 279.60,369.00" fill="none" stroke="#f2cc0c" stroke-width="0.8" stroke-linejoin="round" />
<rect x="22.20" y="480.05" width="8.20" height="2.30" rx="1.1" fill="#73bf69" />
<text x="33.90" y="483.70" font-size="6.75" fill="#c4c5cd" font-weight="normal" text-anchor="start" >Compact</text>
<rect x="255.60" y="480.05" width="8.20" height="2.30" rx="1.1" fill="#f2cc0c" />
<text x="266.50" y="483.70" font-size="6.75" fill="#c4c5cd" font-weight="normal" text-anchor="start" >Uncompact</text>
<rect x="317.50" y="328.50" width="304.00" height="162.20" rx="1.5" fill="#181b1f" stroke="#25272c" stroke-width="1" />
<path d="M317.50,329.50 Q317.50,328.50 318.50,328.50 L335.60,328.50 L317.50,346.60 Z" fill="#262930"/>
<text x="321.20" y="335.90" font-size="6.6" fill="#d2d3da" font-family="'Liberation Serif', serif" font-weight="bold">i</text>
<text x="469.50" y="340.00" font-size="7.4" fill="#d6d7de" font-weight="bold" text-anchor="middle" >Signage Points per 9.375s</text>
<line x1="343.10" y1="373.20" x2="602.90" y2="373.20" stroke="#282b30" stroke-width="1" />
<line x1="343.10" y1="417.20" x2="602.90" y2="417.20" stroke="#282b30" stroke-width="1" />
<line x1="343.10" y1="460.00" x2="602.90" y2="460.00" stroke="#282b30" stroke-width="1" />
<line x1="343.10" y1="395.20" x2="602.90" y2="395.20" stroke="#1d2024" stroke-width="1" />
<line x1="343.10" y1="438.00" x2="602.90" y2="438.00" stroke="#1d2024" stroke-width="1" />
<line x1="368.00" y1="360.00" x2="368.00" y2="462.50" stroke="#212428" stroke-width="1" />
<line x1="411.20" y1="360.00" x2="411.20" y2="462.50" stroke="#212428" stroke-width="1" />
<line x1="454.40" y1="360.00" x2="454.40" y2="462.50" stroke="#212428" stroke-width="1" />
<line x1="497.60" y1="360.00" x2="497.60" y2="462.50" stroke="#212428" stroke-width="1" />
<line x1="540.70" y1="360.00" x2="540.70" y2="462.50" stroke="#212428" stroke-width="1" />
<line x1="583.80" y1="360.00" x2="583.80" y2="462.50" stroke="#212428" stroke-width="1" />
<text x="339.10" y="375.20" font-size="6.8" fill="#d0d1d9" font-weight="normal" text-anchor="end" >1.30</text>
<text x="339.10" y="397.10" font-size="6.8" fill="#d0d1d9" font-weight="normal" text-anchor="end" >1.20</text>
<text x="339.10" y="419.40" font-size="6.8" fill="#d0d1d9" font-weight="normal" text-anchor="end" >1.10</text>
<text x="339.10" y="440.60" font-size="6.8" fill="#d0d1d9" font-weight="normal" text-anchor="end" >1</text>
<text x="339.10" y="462.40" font-size="6.8" fill="#d0d1d9" font-weight="normal" text-anchor="end" >0.900</text>
<text x="368.00" y="473.00" font-size="6.8" fill="#d0d1d9" font-weight="normal" text-anchor="middle" >03:00</text>
<text x="411.20" y="473.00" font-size="6.8" fill="#d0d1d9" font-weight="normal" text-anchor="middle" >04:00</text>
<text x="454.40" y="473.00" font-size="6.8" fill="#d0d1d9" font-weight="normal" text-anchor="middle" >05:00</text>
<text x="497.60" y="473.00" font-size="6.8" fill="#d0d1d9" font-weight="normal" text-anchor="middle" >06:00</text>
<text x="540.70" y="473.00" font-size="6.8" fill="#d0d1d9" font-weight="normal" text-anchor="middle" >07:00</text>
<text x="583.80" y="473.00" font-size="6.8" fill="#d0d1d9" font-weight="normal" text-anchor="middle" >08:00</text>
<polyline points="343.35,437.90 344.05,437.90 344.55,445.35 345.70,445.35 346.20,437.90 347.65,437.90 348.15,430.45 349.54,430.45 350.04,437.90 352.28,437.90 352.78,430.45 353.55,430.45 354.05,452.80 354.75,452.80 355.25,437.90 356.12,437.90 356.75,423.00 357.45,423.00 357.95,430.45 358.35,430.45 358.85,430.45 359.25,430.45 359.75,423.00 360.55,423.00 361.05,437.90 362.75,437.90 363.25,430.45 364.65,430.45 365.15,437.90 366.00,437.90 366.50,430.45 366.77,430.45 367.27,437.90 367.55,437.90 368.05,452.80 368.75,452.80 369.25,445.35 370.76,445.35 371.26,437.90 373.04,437.90 373.54,430.45 374.23,430.45 374.73,437.90 376.23,437.90 376.73,430.45 378.36,430.45 378.86,437.90 380.04,437.90 380.54,430.45 381.97,430.45 382.47,437.90 383.07,437.90 383.85,452.80 384.55,452.80 385.05,445.35 385.93,445.35 386.43,437.90 388.05,437.90 388.55,430.45 389.48,430.45 389.98,437.90 390.73,437.90 391.23,430.45 392.73,430.45 393.23,437.90 394.09,437.90 394.59,445.35 395.11,445.35 395.61,437.90 398.23,437.90 398.73,445.35 400.06,445.35 400.56,437.90 402.69,437.90 403.19,445.35 404.49,445.35 404.99,437.90 405.58,437.90 406.08,430.45 407.52,430.45 408.02,437.90 408.81,437.90 409.31,445.35 410.84,445.35 411.34,437.90 412.62,437.90 413.12,430.45 414.00,430.45 414.50,437.90 415.72,437.90 416.22,452.80 416.82,452.80 417.32,437.90 419.62,437.90 420.12,430.45 421.40,430.45 421.90,437.90 424.55,437.90 425.05,430.45 425.36,430.45 425.86,437.90 427.60,437.90 428.10,445.35 429.16,445.35 429.66,437.90 430.72,437.90 431.25,420.02 431.75,420.02 432.25,414.06 433.35,414.06 433.85,423.00 434.25,423.00 434.75,423.00 435.22,423.00 435.72,437.90 436.43,437.90 436.93,430.45 438.52,430.45 439.02,437.90 440.15,437.90 440.65,445.35 441.31,445.35 441.81,437.90 442.36,437.90 442.86,430.45 444.28,430.45 444.78,437.90 445.75,437.90 446.25,430.45 447.25,430.45 447.75,430.45 448.98,430.45 449.48,437.90 450.25,437.90 450.75,407.35 451.25,407.35 451.75,414.06 452.25,414.06 452.75,408.10 453.25,408.10 453.75,445.35 453.80,445.35 454.25,445.35 456.35,445.35 456.85,437.90 456.90,437.90 457.25,384.26 457.55,384.26 458.05,390.96 458.95,390.96 459.45,423.00 460.05,423.00 460.55,437.90 461.25,437.90 461.75,437.90 463.23,437.90 463.73,430.45 463.95,430.45 464.45,414.06 466.75,414.06 467.25,437.90 467.30,437.90 467.75,445.35 468.75,445.35 469.25,430.45 469.55,430.45 470.05,437.90 472.29,437.90 472.79,445.35 473.71,445.35 474.21,437.90 476.52,437.90 477.02,430.45 477.61,430.45 478.11,437.90 479.10,437.90 479.60,430.45 480.06,430.45 480.56,437.90 481.03,437.90 481.53,430.45 483.07,430.45 483.57,437.90 486.23,437.90 486.73,445.35 487.65,445.35 488.15,437.90 489.06,437.90 489.56,445.35 490.55,445.35 491.05,437.90 493.10,437.90 493.60,430.45 494.11,430.45 494.61,437.90 496.75,437.90 497.25,452.80 498.05,452.80 498.55,445.35 500.07,445.35 500.57,437.90 502.32,437.90 502.82,430.45 503.89,430.45 504.39,437.90 506.73,437.90 507.23,430.45 508.23,430.45 508.73,437.90 509.69,437.90 510.19,445.35 510.40,445.35 510.90,437.90 512.85,437.90 513.35,445.35 513.58,445.35 514.08,437.90 514.75,437.90 515.25,414.80 516.25,414.80 516.75,406.61 518.75,406.61 519.55,445.35 519.65,445.35 520.15,445.35 520.20,445.35 520.45,376.81 521.05,376.81 521.55,369.36 522.45,369.36 522.95,437.90 523.00,437.90 523.45,437.90 525.25,437.90 525.75,430.45 525.80,430.45 526.25,452.05 527.75,452.05 528.25,437.90 528.75,437.90 529.25,399.16 531.55,399.16 532.05,392.83 532.75,392.83 533.25,445.35 533.65,445.35 534.15,437.90 534.68,437.90 535.18,430.45 535.42,430.45 535.92,437.90 537.29,437.90 537.79,430.45 539.29,430.45 539.79,437.90 541.66,437.90 542.16,430.45 543.17,430.45 543.67,437.90 544.75,437.90 545.25,430.45 545.78,430.45 546.28,437.90 546.98,437.90 547.48,430.45 548.24,430.45 548.74,437.90 550.75,437.90 551.25,445.35 551.52,445.35 552.02,437.90 554.02,437.90 554.52,445.35 555.88,445.35 556.38,437.90 558.58,437.90 559.08,430.45 559.98,430.45 560.48,437.90 560.93,437.90 561.43,445.35 561.89,445.35 562.39,437.90 564.40,437.90 564.90,430.45 566.15,430.45 566.65,437.90 567.70,437.90 568.20,430.45 568.98,430.45 569.48,437.90 570.52,437.90 571.02,445.35 571.67,445.35 572.17,437.90 573.67,437.90 574.17,445.35 575.80,445.35 576.30,437.90 576.83,437.90 577.33,445.35 578.30,445.35 578.80,437.90 580.86,437.90 581.36,445.35 582.02,445.35 582.52,437.90 582.95,437.90 583.45,452.80 584.15,452.80 584.65,445.35 585.69,445.35 586.19,437.90 586.64,437.90 587.14,445.35 588.81,445.35 589.31,437.90 590.46,437.90 590.96,430.45 592.35,430.45 592.85,414.06 593.55,414.06 594.05,437.90 594.61,437.90 595.11,430.45 595.42,430.45 595.92,437.90 596.75,437.90 597.25,423.00 597.95,423.00 598.45,445.35 599.32,445.35 599.82,437.90 601.61,437.90 602.11,430.45 602.65,430.45" fill="none" stroke="#73bf69" stroke-width="0.75" stroke-linejoin="round" />
<rect x="331.60" y="480.05" width="8.20" height="2.30" rx="1.1" fill="#73bf69" />
<text x="343.00" y="483.70" font-size="6.75" fill="#c4c5cd" font-weight="normal" text-anchor="start" >SPs/9.375s</text>
<rect x="626.50" y="328.50" width="304.00" height="162.20" rx="1.5" fill="#181b1f" stroke="#25272c" stroke-width="1" />
<path d="M626.50,329.50 Q626.50,328.50 627.50,328.50 L644.60,328.50 L626.50,346.60 Z" fill="#262930"/>
<text x="630.20" y="335.90" font-size="6.6" fill="#d2d3da" font-family="'Liberation Serif', serif" font-weight="bold">i</text>
<text x="778.50" y="340.00" font-size="7.4" fill="#d6d7de" font-weight="bold" text-anchor="middle" >Plot K Size</text>
<rect x="631.00" y="365.80" width="69.80" height="109.20" rx="1.5" fill="#28292e" />
<rect x="631.00" y="365.80" width="69.80" height="109.20" rx="1.5" fill="#73bf69" />
<text x="648.94" y="361.8" font-size="13.6" fill="#73bf69">95.9</text>
<text transform="translate(675.70,361.8) scale(0.76,1)" x="0" y="0" font-size="10.6" fill="#73bf69">%</text>
<text x="665.90" y="482.70" font-size="7.2" fill="#d0d1d9" font-weight="normal" text-anchor="middle" >32</text>
<rect x="706.10" y="365.80" width="69.80" height="109.20" rx="1.5" fill="#28292e" />
<rect x="706.10" y="470.00" width="69.80" height="5.00" rx="1.5" fill="#73bf69" />
<text x="724.04" y="361.8" font-size="13.6" fill="#73bf69">3.89</text>
<text transform="translate(750.80,361.8) scale(0.76,1)" x="0" y="0" font-size="10.6" fill="#73bf69">%</text>
<text x="741.00" y="482.70" font-size="7.2" fill="#d0d1d9" font-weight="normal" text-anchor="middle" >33</text>
<rect x="781.20" y="365.80" width="69.80" height="109.20" rx="1.5" fill="#28292e" />
<rect x="781.20" y="474.00" width="69.80" height="1.00" rx="0.5" fill="#73bf69" />
<text x="791.57" y="361.8" font-size="13.6" fill="#73bf69">0.0859</text>
<text transform="translate(833.46,361.8) scale(0.76,1)" x="0" y="0" font-size="10.6" fill="#73bf69">%</text>
<text x="816.10" y="482.70" font-size="7.2" fill="#d0d1d9" font-weight="normal" text-anchor="middle" >34</text>
<rect x="856.30" y="365.80" width="69.80" height="109.20" rx="1.5" fill="#28292e" />
<rect x="856.30" y="474.00" width="69.80" height="1.00" rx="0.5" fill="#73bf69" />
<text x="866.67" y="361.8" font-size="13.6" fill="#73bf69">0.0859</text>
<text transform="translate(908.56,361.8) scale(0.76,1)" x="0" y="0" font-size="10.6" fill="#73bf69">%</text>
<text x="891.20" y="482.70" font-size="7.2" fill="#d0d1d9" font-weight="normal" text-anchor="middle" >35</text>
</svg>
</body></html>
